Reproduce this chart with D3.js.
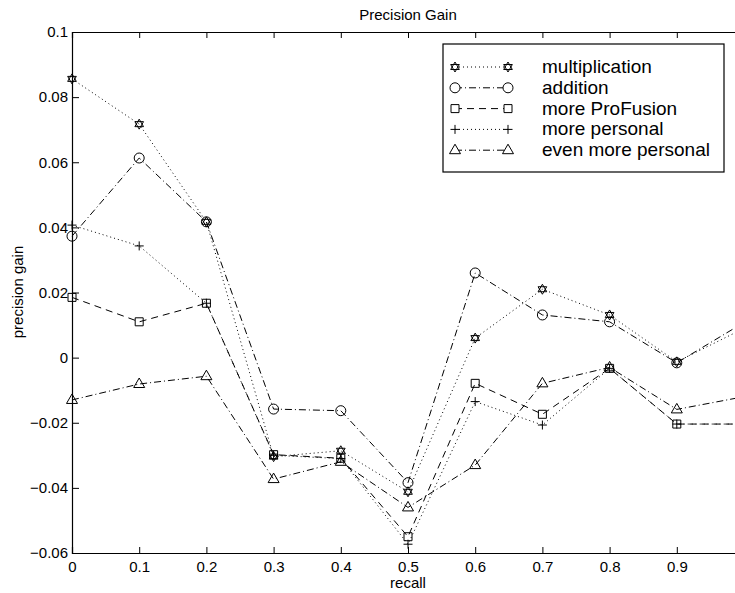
<!DOCTYPE html>
<html>
<head>
<meta charset="utf-8">
<script src="https://cdn.jsdelivr.net/npm/d3@7"></script>
<style>
  body { margin: 0; background: #fff; }
  text { font-family: "Liberation Sans", Arial, sans-serif; fill: #000; }
</style>
</head>
<body>
<svg width="735" height="593"></svg>
<script>
// recall levels
var recall = [0, 0.1, 0.2, 0.3, 0.4, 0.5, 0.6, 0.7, 0.8, 0.9, 1.0];

// precision gain per method
var multiplication = [0.0856, 0.0717, 0.0417, -0.0304, -0.0286, -0.0412, 0.0060, 0.0210, 0.0131, -0.0013, 0.0090];
var addition = [0.0373, 0.0613, 0.0417, -0.0158, -0.0163, -0.0384, 0.0260, 0.0131, 0.0110, -0.0016, 0.0108];
var moreProFusion = [0.0185, 0.0110, 0.0167, -0.0298, -0.0309, -0.0550, -0.0079, -0.0174, -0.0033, -0.0204, -0.0204];
var morePersonal = [0.0407, 0.0343, 0.0167, -0.0300, -0.0310, -0.0573, -0.0135, -0.0207, -0.0033, -0.0204, -0.0204];
var evenMorePersonal = [-0.0130, -0.0081, -0.0057, -0.0373, -0.0320, -0.0460, -0.0330, -0.0079, -0.0030, -0.0159, -0.0120];

var seriesNames = ['multiplication', 'addition', 'more ProFusion', 'more personal', 'even more personal'];
var xTicks = [0, 0.1, 0.2, 0.3, 0.4, 0.5, 0.6, 0.7, 0.8, 0.9];
var yTicks = [-0.06, -0.04, -0.02, 0, 0.02, 0.04, 0.06, 0.08, 0.1];

var series = [
  { name: seriesNames[0], values: multiplication, marker: 'hexagram', dash: '1,3' },
  { name: seriesNames[1], values: addition, marker: 'circle', dash: '7,3,1,3' },
  { name: seriesNames[2], values: moreProFusion, marker: 'square', dash: '7,5' },
  { name: seriesNames[3], values: morePersonal, marker: 'plus', dash: '1,3' },
  { name: seriesNames[4], values: evenMorePersonal, marker: 'triangle', dash: '7,3,1,3' }
];

var svg = d3.select('svg');

var x = d3.scaleLinear().domain([0, 1]).range([72, 744]);
var y = d3.scaleLinear().domain([-0.06, 0.1]).range([553, 32]);

function yFmt(d) {
  if (d === 0) return '0';
  var s = String(+d.toFixed(2));
  return d < 0 ? '\u2212' + s.slice(1) : s;
}

function markerPath(type) {
  var p = d3.path();
  if (type === 'hexagram') {
    var r = 5;
    [-90, 90].forEach(function(start) {
      for (var i = 0; i < 3; i++) {
        var a = (start + i * 120) * Math.PI / 180;
        if (i === 0) p.moveTo(r * Math.cos(a), r * Math.sin(a));
        else p.lineTo(r * Math.cos(a), r * Math.sin(a));
      }
      p.closePath();
    });
  } else if (type === 'circle') {
    p.moveTo(5, 0);
    p.arc(0, 0, 5, 0, 2 * Math.PI);
  } else if (type === 'square') {
    p.rect(-4, -4, 8, 8);
  } else if (type === 'plus') {
    p.moveTo(-4.5, 0); p.lineTo(4.5, 0);
    p.moveTo(0, -4.5); p.lineTo(0, 4.5);
  } else if (type === 'triangle') {
    p.moveTo(0, -6); p.lineTo(5.5, 3.5); p.lineTo(-5.5, 3.5); p.closePath();
  }
  return p.toString();
}

// axes (ticks point inward)
var yAxis = svg.append('g')
  .attr('transform', 'translate(' + x(0) + ',0)')
  .call(d3.axisLeft(y).tickValues(yTicks).tickSize(-7).tickPadding(4).tickFormat(yFmt));

var xAxis = svg.append('g')
  .attr('transform', 'translate(0,' + y(-0.06) + ')')
  .call(d3.axisBottom(x).tickValues(xTicks).tickSize(-6).tickPadding(8).tickFormat(d3.format('')));

var topAxis = svg.append('g')
  .attr('transform', 'translate(0,' + y(0.1) + ')')
  .call(d3.axisTop(x).tickValues(xTicks).tickSize(-6).tickFormat(''));

svg.selectAll('.domain').attr('stroke', '#000').attr('stroke-width', 1.2);
svg.selectAll('.tick line').attr('stroke', '#000');
svg.selectAll('.tick text').style('font-size', '15px').attr('fill', '#111');

// lines and markers
var line = d3.line()
  .x(function(d, i) { return x(recall[i]); })
  .y(function(d) { return y(d); });

series.forEach(function(s) {
  svg.append('path')
    .datum(s.values)
    .attr('d', line)
    .attr('fill', 'none')
    .attr('stroke', '#000')
    .attr('stroke-width', 1)
    .attr('stroke-dasharray', s.dash);

  svg.append('g')
    .selectAll('path')
    .data(s.values)
    .enter()
    .append('path')
    .attr('d', markerPath(s.marker))
    .attr('transform', function(d, i) {
      return 'translate(' + x(recall[i]) + ',' + y(d) + ')';
    })
    .attr('fill', 'none')
    .attr('stroke', '#000')
    .attr('stroke-width', 1);
});

// labels
svg.append('text')
  .attr('x', 408).attr('y', 20)
  .attr('text-anchor', 'middle')
  .style('font-size', '15px')
  .text('Precision Gain');

svg.append('text')
  .attr('x', 408).attr('y', 588)
  .attr('text-anchor', 'middle')
  .style('font-size', '15px')
  .text('recall');

svg.append('text')
  .attr('transform', 'translate(23,292) rotate(-90)')
  .attr('text-anchor', 'middle')
  .style('font-size', '15px')
  .text('precision gain');

// legend
var legend = svg.append('g');
legend.append('rect')
  .attr('x', 443).attr('y', 44)
  .attr('width', 281).attr('height', 128)
  .attr('fill', '#fff')
  .attr('stroke', '#000')
  .attr('stroke-width', 1.2);

var rows = legend.selectAll('g.row')
  .data(series)
  .enter()
  .append('g')
  .attr('class', 'row')
  .attr('transform', function(d, i) { return 'translate(0,' + (67 + i * 20.8) + ')'; });

rows.append('line')
  .attr('x1', 455).attr('x2', 508)
  .attr('stroke', '#000')
  .attr('stroke-dasharray', function(d) { return d.dash; });

rows.selectAll('path')
  .data(function(d) { return [d, d]; })
  .enter()
  .append('path')
  .attr('d', function(d) { return markerPath(d.marker); })
  .attr('transform', function(d, i) { return 'translate(' + (i ? 508 : 455) + ',0)'; })
  .attr('fill', '#fff')
  .attr('stroke', '#000');

rows.append('text')
  .attr('x', 542).attr('y', 6)
  .style('font-size', '19px')
  .text(function(d) { return d.name; });
</script>
</body>
</html>
